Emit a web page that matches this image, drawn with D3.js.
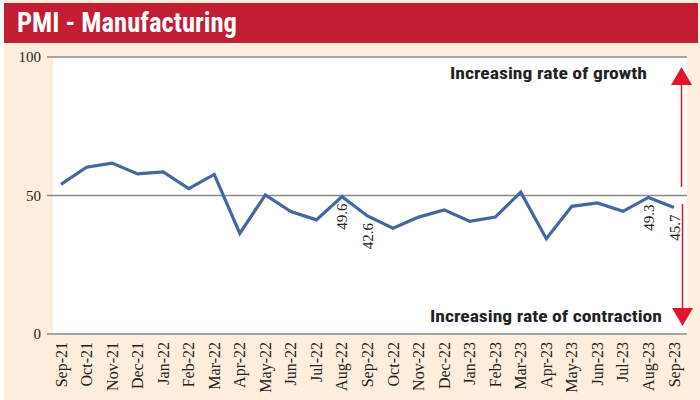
<!DOCTYPE html>
<html><head><meta charset="utf-8">
<script src="https://cdn.jsdelivr.net/npm/d3@7"></script>
<style>body{margin:0;background:#fff}svg{display:block}</style>
</head><body>
<svg id="c" width="700" height="400"></svg>
<script>
const months = ["Sep-21","Oct-21","Nov-21","Dec-21","Jan-22","Feb-22","Mar-22","Apr-22","May-22","Jun-22","Jul-22","Aug-22","Sep-22","Oct-22","Nov-22","Dec-22","Jan-23","Feb-23","Mar-23","Apr-23","May-23","Jun-23","Jul-23","Aug-23","Sep-23"];
const pmi = [54.0,60.2,61.7,57.8,58.5,52.5,57.6,36.3,50.2,44.2,41.2,49.6,42.6,38.2,42.2,44.8,40.7,42.2,51.2,34.4,46.1,47.3,44.3,49.3,45.7];
const yTicks = [0,50,100];
const labelled = ["Aug-22","Sep-22","Aug-23","Sep-23"];
const title = "PMI - Manufacturing";
const growthText = "Increasing rate of growth";
const contractionText = "Increasing rate of contraction";

(function(){
const svg = d3.select("#c");
const cream = "#fdeedd", red = "#c21d33";
svg.append("rect").attr("x",4).attr("y",0).attr("width",696).attr("height",400).attr("fill",cream);
svg.append("rect").attr("x",4).attr("y",3).attr("width",694).attr("height",40).attr("fill",red);
svg.append("text").attr("x",17).attr("y",32).attr("fill","#fff")
  .attr("font-family","'Liberation Sans Narrow','Roboto Condensed','Liberation Sans',Arial,sans-serif")
  .attr("font-weight","bold").attr("font-size",27)
  .attr("textLength",220).attr("lengthAdjust","spacingAndGlyphs").text(title);

const pL = 53, pR = 687, pT = 57, pB = 334;
svg.append("rect").attr("x",pL).attr("y",pT).attr("width",pR-pL).attr("height",pB-pT).attr("fill","#fff");

const x = d3.scalePoint().domain(months).range([61,674]);
const y = d3.scaleLinear().domain([0,100]).range([pB,pT]);

svg.selectAll("line.grid").data(yTicks).join("line").attr("class","grid")
  .attr("x1",47).attr("x2",pR).attr("y1",d=>y(d)).attr("y2",d=>y(d))
  .attr("stroke","#8a8a8a").attr("stroke-width",1.5);
svg.selectAll("text.yt").data(yTicks).join("text").attr("class","yt")
  .attr("x",41).attr("y",d=>y(d)+5).attr("text-anchor","end")
  .attr("font-family","'Liberation Serif','Times New Roman',serif").attr("font-size",15).attr("fill","#222")
  .text(d=>d);

svg.selectAll("text.xl").data(months).join("text").attr("class","xl")
  .attr("transform",d=>`translate(${x(d)+5.5},342) rotate(-90)`)
  .attr("text-anchor","end")
  .attr("font-family","'Liberation Serif','Times New Roman',serif").attr("font-size",16).attr("fill","#222")
  .text(d=>d);

const line = d3.line().x((d,i)=>x(months[i])).y(d=>y(d));
svg.append("path").datum(pmi).attr("d",line).attr("fill","none")
  .attr("stroke","#44679f").attr("stroke-width",3.2).attr("stroke-linejoin","miter");

svg.selectAll("text.vl").data(labelled).join("text").attr("class","vl")
  .attr("transform",d=>{const v=pmi[months.indexOf(d)];return `translate(${x(d)+5.5},${y(v)+7}) rotate(-90)`;})
  .attr("text-anchor","end")
  .attr("font-family","'Liberation Serif','Times New Roman',serif").attr("font-size",15).attr("fill","#222")
  .text(d=>pmi[months.indexOf(d)].toFixed(1));

const af = "'Liberation Sans Narrow','Roboto Condensed','Liberation Sans',Arial,sans-serif";
svg.append("text").attr("x",450).attr("y",79).attr("fill","#222").attr("font-family",af).attr("font-weight","bold")
  .attr("font-size",16).attr("textLength",197).attr("lengthAdjust","spacingAndGlyphs").text(growthText);
svg.append("text").attr("x",430).attr("y",322).attr("fill","#222").attr("font-family",af).attr("font-weight","bold")
  .attr("font-size",16).attr("textLength",232).attr("lengthAdjust","spacingAndGlyphs").text(contractionText);

const arrRed = "#e3142a";
svg.append("line").attr("x1",681.5).attr("x2",681.5).attr("y1",84).attr("y2",187).attr("stroke",arrRed).attr("stroke-width",1.5);
svg.append("path").attr("d","M681.5,67 L692,85 L671,85 Z").attr("fill",arrRed);
svg.append("line").attr("x1",682.5).attr("x2",682.5).attr("y1",204).attr("y2",309).attr("stroke",arrRed).attr("stroke-width",1.5);
svg.append("path").attr("d","M682.5,326 L693,308 L672,308 Z").attr("fill",arrRed);
})();
</script>
</body></html>
